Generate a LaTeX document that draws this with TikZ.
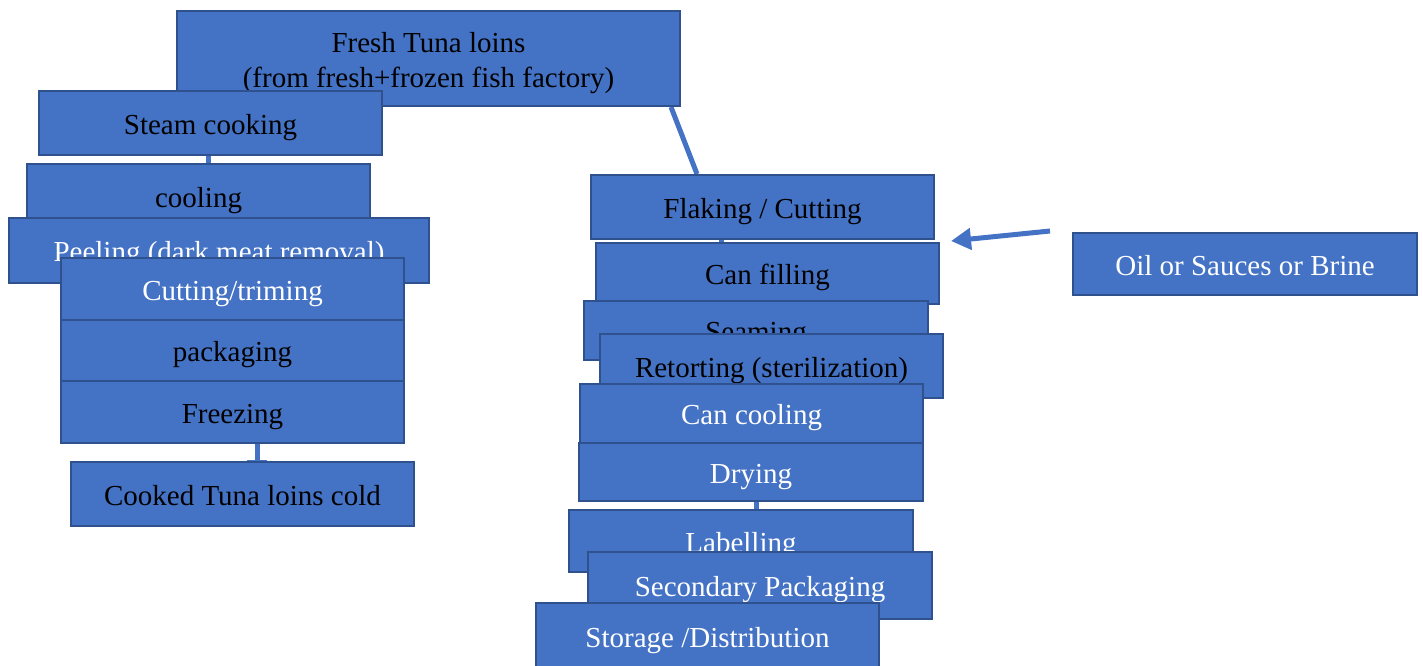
\documentclass[tikz,border=0pt]{standalone}
\usepackage{fontspec}
\setmainfont{Liberation Serif}
\usetikzlibrary{calc,arrows.meta}
\definecolor{boxfill}{HTML}{4472C4}
\definecolor{boxline}{HTML}{2F528F}
\pgfdeclarelayer{background}
\pgfsetlayers{background,main}
\begin{document}
\begin{tikzpicture}[x=1pt,y=-1pt,
  box/.style={draw=boxline, fill=boxfill, line width=2pt, inner sep=0pt, align=center,
              font=\fontsize{29}{35}\selectfont, text height=25pt, text depth=2.5pt},
  wh/.style 2 args={minimum width=#1pt, minimum height=#2pt},
  wt/.style={text=white}, bk/.style={text=black},
  link/.style={draw=boxfill, line width=5pt},
]
\useasboundingbox (0,0) rectangle (1423,666);

% left column
\node[box,bk,wh={503}{95},text height=58.7pt,text depth=0pt] (fresh) at (428.5,58.5) {Fresh Tuna loins\\(from fresh+frozen fish factory)};
\node[box,bk,wh={343}{64}] (steam) at (210.5,123) {Steam cooking};
\node[box,bk,wh={343}{64}] (cool) at (198.5,196) {cooling};
\node[box,wt,wh={420}{65}] (peel) at (219,250.5) {Peeling (dark meat removal)};
\node[box,wt,wh={343}{62}] (cut) at (232.5,289) {Cutting/triming};
\node[box,bk,wh={343}{61}] (pack) at (232.5,350.5) {packaging};
\node[box,bk,wh={343}{62}] (freeze) at (232.5,412) {Freezing};
\node[box,bk,wh={343}{64}] (cooked) at (242.5,494) {Cooked Tuna loins cold};

% right column
\node[box,bk,wh={343}{64}] (flak) at (762.5,207) {Flaking / Cutting};
\node[box,bk,wh={343}{61}] (fill) at (767.5,273.5) {Can filling};
\node[box,bk,wh={344}{59}] (seam) at (756,330.5) {Seaming};
\node[box,bk,wh={343}{64}] (ret) at (771.5,366) {Retorting (sterilization)};
\node[box,wt,wh={343}{59}] (ccool) at (751.5,413.5) {Can cooling};
\node[box,wt,wh={344}{58}] (dry) at (751,472) {Drying};
\node[box,wt,wh={344}{62}] (label) at (741,541) {Labelling};
\node[box,wt,wh={344}{67}] (sec) at (760,585.5) {Secondary Packaging};
\node[box,wt,wh={343}{66}] (stor) at (707.5,636) {Storage /Distribution};

% side input
\node[box,wt,wh={344}{62}] (oil) at (1245,264) {Oil or Sauces or Brine};
\coordinate (oilsrc) at (1050,231);

\begin{pgfonlayer}{background}
  \draw[link] ($(steam.south)+(-2.5,0)$) -- ($(cool.north)+(9.5,0)$);
  \draw[link] ($(fresh.south east)+(-10,0)$) -- ($(flak.north west)+(107,0)$);
  \draw[link,-{Triangle[length=12pt,width=20pt]}] ($(freeze.south)+(24.5,0)$) -- ($(cooked.north)+(14.5,11)$);
  \draw[link] ($(flak.south)+(-41.5,0)$) -- ($(fill.north)+(-46.5,0)$);
  \draw[link] ($(dry.south)+(5,0)$) -- ($(label.north)+(15,0)$);
\end{pgfonlayer}
\draw[link,-{Triangle[length=20pt,width=21pt]}] (oilsrc) -- ($(flak.south east)+(16,1)$);
\end{tikzpicture}
\end{document}
